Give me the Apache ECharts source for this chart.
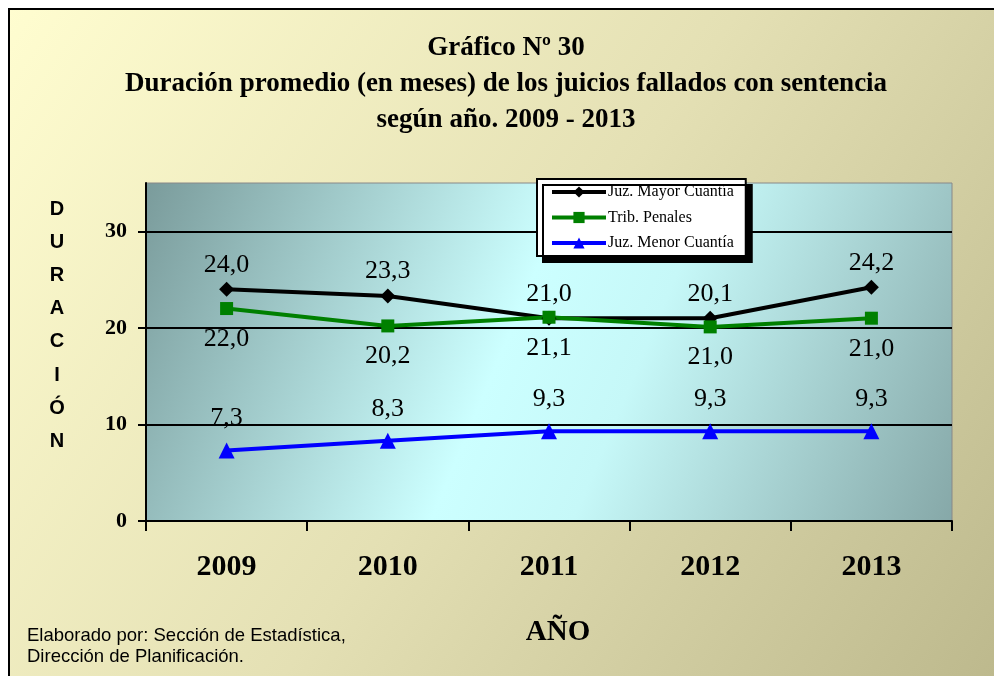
<!DOCTYPE html>
<html><head><meta charset="utf-8">
<script src="https://cdn.jsdelivr.net/npm/echarts@6/dist/echarts.min.js"></script>
<style>html,body{margin:0;padding:0;background:#fff;}#c{width:994px;height:676px;}</style>
</head><body><div id="c"></div>
<script>
const years = ['2009','2010','2011','2012','2013'];
const mayor = [24.0, 23.3, 21.0, 21.0, 24.2];
const mayorLabels = ['24,0','23,3','21,0','20,1','24,2'];
const penales = [22.0, 20.2, 21.1, 20.1, 21.0];
const penalesLabels = ['22,0','20,2','21,1','21,0','21,0'];
const menor = [7.3, 8.3, 9.3, 9.3, 9.3];
const menorLabels = ['7,3','8,3','9,3','9,3','9,3'];
const yTicks = [0, 10, 20, 30];

const chart = echarts.init(document.getElementById('c'));
const serif = 'Liberation Serif';
const lbl = (arr, pos, dist) => ({show:true, position:pos, distance:dist, color:'#000', fontFamily:serif, fontSize:26,
  formatter: p => arr[p.dataIndex]});
chart.setOption({
  animation:false,
  graphic:[
    {type:'rect', z:-100, shape:{x:9,y:9,width:995,height:680},
     style:{fill:new echarts.graphic.LinearGradient(0,0,1,1,[{offset:0,color:'#fffdd0'},{offset:0.5,color:'#e4e0b4'},{offset:1,color:'#bcb88c'}]), stroke:'#000', lineWidth:2}},
    {type:'text', x:506, y:30, z:10, style:{text:'Gráfico Nº 30\nDuración promedio (en meses) de los juicios fallados con sentencia\nsegún año. 2009 - 2013',
      font:'bold 27px Liberation Serif', lineHeight:36, fill:'#000', align:'center', verticalAlign:'top'}},
    {type:'text', x:57, y:193, z:10, style:{text:'D\nU\nR\nA\nC\nI\nÓ\nN', font:'bold 20px Liberation Sans', lineHeight:33.1, fill:'#000', align:'center', verticalAlign:'top'}},
    {type:'text', x:27, y:626, z:10, style:{text:'Elaborado por: Sección de Estadística,\nDirección de Planificación.', font:'18.5px Liberation Sans', lineHeight:20.5, fill:'#000', verticalAlign:'top'}},
    {type:'text', x:558, y:633, z:10, style:{text:'AÑO', font:'bold 29px Liberation Serif', fill:'#000', align:'center', verticalAlign:'middle'}}
  ],
  legend:{orient:'vertical', left:537, top:179, padding:[5,12,5,13], itemGap:9.5, itemWidth:54, itemHeight:14,
    backgroundColor:'#fff', borderColor:'#000', borderWidth:2, shadowColor:'#000', shadowOffsetX:6, shadowOffsetY:6, shadowBlur:0,
    lineStyle:{width:4},
    textStyle:{fontFamily:serif, fontSize:16, color:'#000', padding:[0,0,0,-3]},
    data:['Juz. Mayor Cuantía','Trib. Penales','Juz. Menor Cuantía']},
  grid:{left:146, top:183, right:42, bottom:155, show:true, borderWidth:1, borderColor:'#888',
    backgroundColor:new echarts.graphic.LinearGradient(0,0,1,1,[{offset:0,color:'#7a9b9b'},{offset:0.45,color:'#ccffff'},{offset:0.6,color:'#c6f8f8'},{offset:1,color:'#86a8a8'}])},
  xAxis:{type:'category', data:years, boundaryGap:true,
    axisLine:{lineStyle:{color:'#000', width:2}}, axisTick:{show:true, length:10, lineStyle:{color:'#000', width:2}},
    axisLabel:{fontFamily:serif, fontWeight:'bold', fontSize:30, color:'#000', margin:31}},
  yAxis:{type:'value', min:0, max:35, interval:10,
    axisLine:{show:true, lineStyle:{color:'#000', width:2}},
    axisTick:{show:true, length:8, customValues:yTicks, lineStyle:{color:'#000', width:2}},
    splitLine:{show:true, lineStyle:{color:'#000', width:2}},
    axisLabel:{fontFamily:serif, fontWeight:'bold', fontSize:22, color:'#000', margin:19, customValues:yTicks,
      formatter:v => yTicks.indexOf(v) >= 0 ? String(v) : ''}},
  series:[
    {name:'Juz. Mayor Cuantía', type:'line', data:mayor, color:'#000', symbol:'diamond', symbolSize:15,
     lineStyle:{width:4, color:'#000'}, itemStyle:{color:'#000'}, label:lbl(mayorLabels,'top',4)},
    {name:'Trib. Penales', type:'line', data:penales, color:'#008000', symbol:'rect', symbolSize:13,
     lineStyle:{width:4, color:'#008000'}, itemStyle:{color:'#008000'}, label:lbl(penalesLabels,'bottom',11)},
    {name:'Juz. Menor Cuantía', type:'line', data:menor, color:'#0000ff', symbol:'triangle', symbolSize:16,
     lineStyle:{width:4, color:'#0000ff'}, itemStyle:{color:'#0000ff'}, label:lbl(menorLabels,'top',11)}
  ]
});
</script></body></html>
